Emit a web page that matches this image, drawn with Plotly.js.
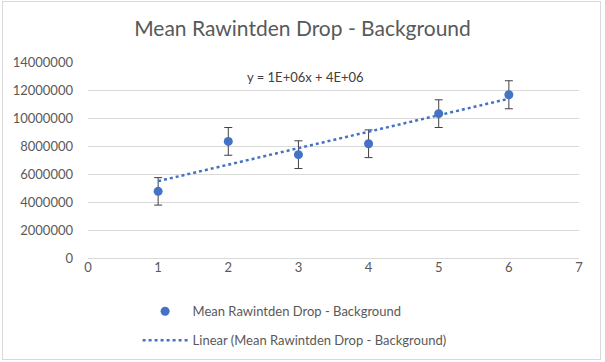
<!DOCTYPE html>
<html>
<head>
<meta charset="utf-8">
<script src="https://cdn.plot.ly/plotly-3.0.1.min.js"></script>
<style>
html,body{margin:0;padding:0;background:#fff;}
#wrap{position:relative;width:605px;height:362px;}
#frame{position:absolute;left:2px;top:1px;width:597px;height:357px;border:1px solid #d9d9d9;pointer-events:none;}
#chart{position:absolute;left:0;top:0;width:605px;height:362px;}
</style>
</head>
<body>
<div id="wrap"><div id="chart"></div><div id="frame"></div></div>
<script>
const xValues = [1, 2, 3, 4, 5, 6];
const meanValues = [4760000, 8330000, 7380000, 8160000, 10310000, 11660000];
const errorValues = [980000, 990000, 990000, 990000, 990000, 1000000];
const seriesName = 'Mean Rawintden Drop - Background';
const trendName = 'Linear (Mean Rawintden Drop - Background)';
const equationLabel = 'y = 1E+06x + 4E+06';
const yTickValues = [0, 2000000, 4000000, 6000000, 8000000, 10000000, 12000000, 14000000];
const yTickLabels = ['0', '2000000', '4000000', '6000000', '8000000', '10000000', '12000000', '14000000'];
const xTickValues = [0, 1, 2, 3, 4, 5, 6, 7];

// least-squares linear trendline derived from the data
const n = xValues.length;
const mx = xValues.reduce((a, b) => a + b, 0) / n;
const my = meanValues.reduce((a, b) => a + b, 0) / n;
let sxy = 0, sxx = 0;
for (let i = 0; i < n; i++) { sxy += (xValues[i] - mx) * (meanValues[i] - my); sxx += (xValues[i] - mx) ** 2; }
const slope = sxy / sxx, intercept = my - slope * mx;
const trendX = [Math.min(...xValues), Math.max(...xValues)];
const trendY = trendX.map(x => slope * x + intercept);

const blue = '#4472C4';
const grey = '#595959';
const font = 'Lato, "Open Sans", sans-serif';

const traces = [
  {
    x: xValues, y: meanValues, type: 'scatter', mode: 'markers', name: seriesName,
    legendgroup: 'a',
    marker: {color: blue, size: 9},
    error_y: {type: 'data', array: errorValues, visible: true, color: '#404040', thickness: 1, width: 4}
  },
  {
    x: trendX, y: trendY, type: 'scatter', mode: 'lines', name: trendName,
    legendgroup: 'b',
    line: {color: blue, width: 2.5, dash: 'dot'}
  }
];

const layout = {
  width: 605, height: 362,
  margin: {l: 88, r: 26, t: 62, b: 104},
  paper_bgcolor: '#ffffff', plot_bgcolor: '#ffffff',
  font: {family: font, color: grey, size: 13},
  title: {text: 'Mean Rawintden Drop - Background', font: {family: font, size: 21, color: grey}, x: 0.5, xanchor: 'center', y: 0.922, yanchor: 'middle'},
  xaxis: {
    range: [0, 7], tickvals: xTickValues, showgrid: false, zeroline: false,
    showline: false, ticks: '', tickfont: {size: 13, color: grey}, fixedrange: true
  },
  yaxis: {
    range: [0, 14000000], tickvals: yTickValues, ticktext: yTickLabels,
    showgrid: true, gridcolor: '#d9d9d9', gridwidth: 1, zeroline: true, zerolinecolor: '#d9d9d9', zerolinewidth: 1,
    showline: false, ticks: '', tickfont: {size: 13, color: grey}, ticklabelstandoff: 14, fixedrange: true
  },
  showlegend: true,
  legend: {
    orientation: 'v', x: 0.101, xanchor: 'left', yref: 'container', y: 0.1815, yanchor: 'top',
    font: {size: 13, color: grey}, traceorder: 'grouped', tracegroupgap: 9, itemwidth: 45,
    bgcolor: 'rgba(0,0,0,0)'
  },
  annotations: [{
    text: equationLabel, xref: 'x', yref: 'y', x: 3.1, y: 12950000, showarrow: false,
    font: {size: 13, color: '#404040', family: font}, xanchor: 'center', yanchor: 'middle'
  }]
};

Plotly.newPlot('chart', traces, layout, {displayModeBar: false, staticPlot: true});
</script>
</body>
</html>
